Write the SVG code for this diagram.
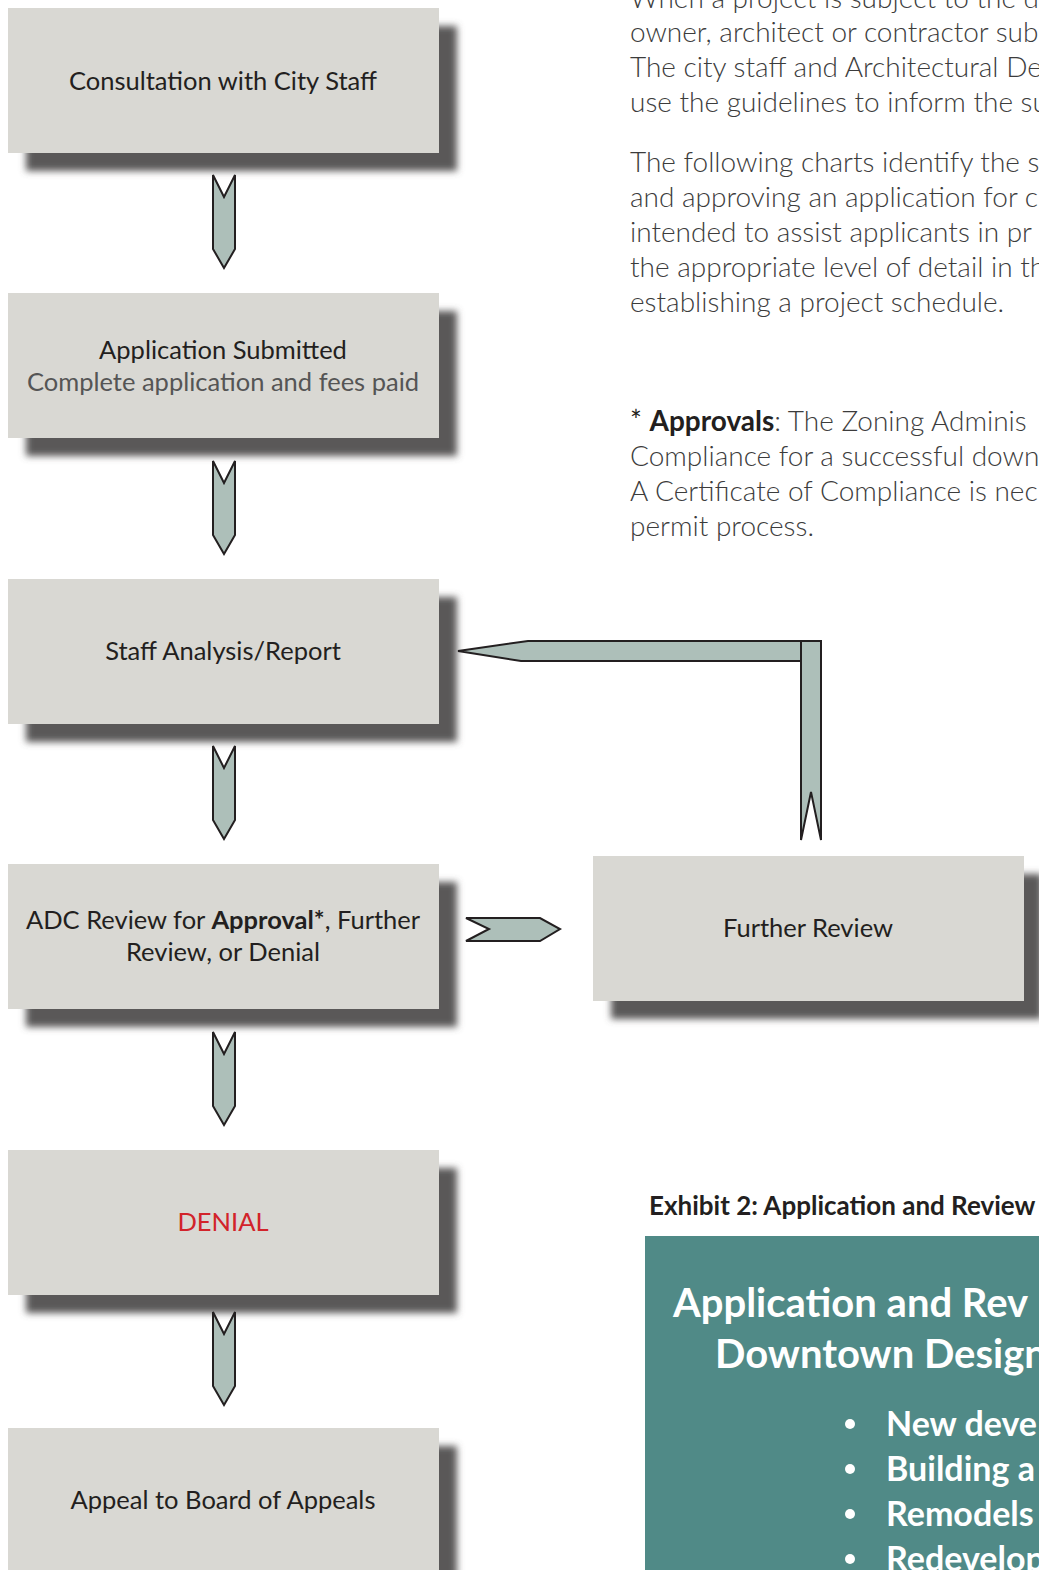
<svg xmlns="http://www.w3.org/2000/svg" width="1039" height="1570" viewBox="0 0 1039 1570">
<defs>
<filter id="sh" x="-10%" y="-20%" width="120%" height="140%"><feGaussianBlur stdDeviation="3.5"/></filter>
<style>
.box{fill:#d9d8d3}
.shd{fill:#5a5858;filter:url(#sh)}
.arr{fill:#adbfb9;stroke:#231f20;stroke-width:2;stroke-linejoin:miter}
.bt{font-family:Lato,"Liberation Sans",sans-serif;font-size:25.5px;fill:#231f20;text-anchor:middle}
.sub{fill:#555}
.para{font-family:Lato,"Liberation Sans",sans-serif;font-size:28px;fill:#3c3c3c;font-weight:300}
.ex{font-family:Lato,"Liberation Sans",sans-serif;font-size:26px;font-weight:bold;fill:#231f20}
.tt{font-family:Lato,"Liberation Sans",sans-serif;font-weight:bold;fill:#fff}
</style>
<path id="down" d="M-11,0 L0,22 L11,0 L11,74 L0,93 L-11,74 Z"/>
</defs>
<rect width="1039" height="1570" fill="#fff"/>

<g id="text-right">
<text class="para" x="630" y="8">When a project is subject to the d</text>
<text class="para" x="630" y="42">owner, architect or contractor sub</text>
<text class="para" x="630" y="77">The city staff and Architectural De</text>
<text class="para" x="630" y="112">use the guidelines to inform the su</text>
<text class="para" x="630" y="172">The following charts identify the s</text>
<text class="para" x="630" y="207">and approving an application for c</text>
<text class="para" x="630" y="242">intended to assist applicants in pr</text>
<text class="para" x="630" y="277">the appropriate level of detail in th</text>
<text class="para" x="630" y="312">establishing a project schedule.</text>
<text class="para" x="630" y="431"><tspan fill="#231f20" font-weight="normal">*</tspan>  <tspan font-weight="bold" fill="#231f20">Approvals</tspan>:  The Zoning Adminis</text>
<text class="para" x="630" y="466">Compliance for a successful down</text>
<text class="para" x="630" y="501">A Certificate of Compliance  is nec</text>
<text class="para" x="630" y="536">permit process.</text>
</g>

<g id="exhibit">
<text class="ex" x="649" y="1215">Exhibit 2: Application and Review</text>
<rect x="645" y="1236" width="394" height="334" fill="#508a87"/>
<text class="tt" x="673" y="1317" font-size="40">Application and Rev</text>
<text class="tt" x="715" y="1368" font-size="40">Downtown Design</text>
<g class="tt" font-size="34">
<circle cx="850" cy="1424" r="5" fill="#fff"/><text x="886" y="1436">New deve</text>
<circle cx="850" cy="1469" r="5" fill="#fff"/><text x="886" y="1481">Building a</text>
<circle cx="850" cy="1514" r="5" fill="#fff"/><text x="886" y="1526">Remodels</text>
<circle cx="850" cy="1559" r="5" fill="#fff"/><text x="886" y="1571">Redevelop</text>
</g>
</g>

<g id="n1"><rect class="shd" x="26" y="26" width="431" height="145"/><rect class="box" x="8" y="8" width="431" height="145"/>
<text class="bt" x="223" y="90">Consultation with City Staff</text></g>
<g id="n2"><rect class="shd" x="26" y="311" width="431" height="145"/><rect class="box" x="8" y="293" width="431" height="145"/>
<text class="bt" x="223" y="359">Application Submitted</text>
<text class="bt sub" x="223" y="391">Complete application and fees paid</text></g>
<g id="n3"><rect class="shd" x="26" y="597" width="431" height="145"/><rect class="box" x="8" y="579" width="431" height="145"/>
<text class="bt" x="223" y="660">Staff Analysis/Report</text></g>
<g id="n4"><rect class="shd" x="26" y="882" width="431" height="145"/><rect class="box" x="8" y="864" width="431" height="145"/>
<text class="bt" x="223" y="929">ADC Review for <tspan font-weight="bold">Approval*</tspan>, Further</text>
<text class="bt" x="223" y="961">Review, or Denial</text></g>
<g id="n5"><rect class="shd" x="26" y="1168" width="431" height="145"/><rect class="box" x="8" y="1150" width="431" height="145"/>
<text class="bt" x="223" y="1231" style="fill:#d2232a">DENIAL</text></g>
<g id="n6"><rect class="shd" x="26" y="1446" width="431" height="145"/><rect class="box" x="8" y="1428" width="431" height="145"/>
<text class="bt" x="223" y="1509">Appeal to Board of Appeals</text></g>
<g id="n7"><rect class="shd" x="611" y="874" width="431" height="145"/><rect class="box" x="593" y="856" width="431" height="145"/>
<text class="bt" x="808" y="937">Further Review</text></g>

<g id="connectors">
<use href="#down" class="arr" x="224" y="175"/>
<use href="#down" class="arr" x="224" y="461"/>
<use href="#down" class="arr" x="224" y="746"/>
<use href="#down" class="arr" x="224" y="1032"/>
<use href="#down" class="arr" x="224" y="1312"/>
<path class="arr" d="M466,918 L540,918 L560,929 L540,941 L466,941 L489,929 Z"/>
<path class="arr" d="M801,641 L528,641 L458,651 L521,661 L801,661 Z"/>
<path class="arr" d="M801,641 L821,641 L821,840 L811,792 L801,840 Z"/>
</g>
</svg>
